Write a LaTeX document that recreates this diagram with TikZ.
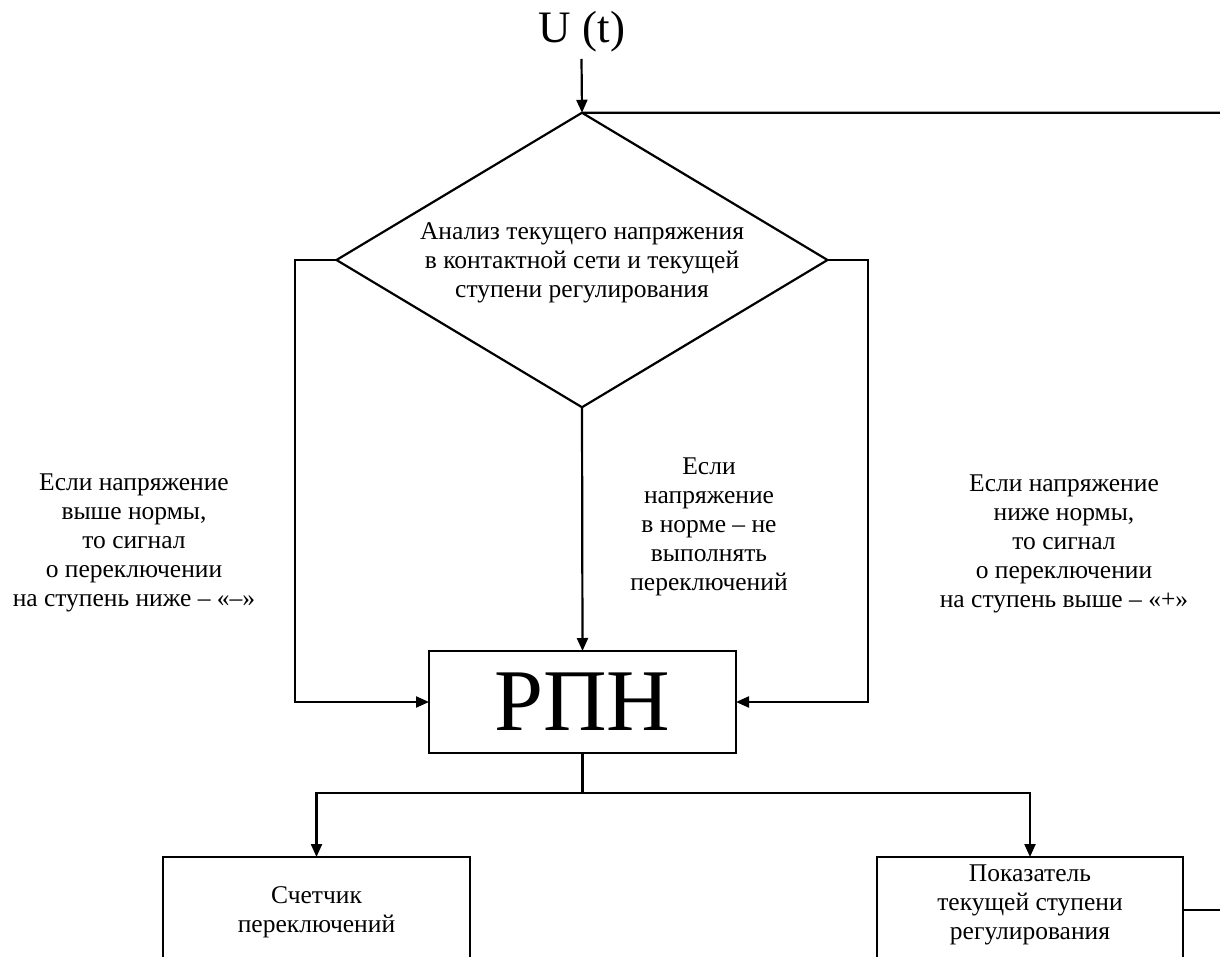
\documentclass[tikz,border=0pt]{standalone}
\usepackage{fontspec}
\setmainfont{Liberation Serif}
\newfontfamily\bigserif{Liberation Serif}
\usetikzlibrary{arrows.meta,shapes.geometric}
\begin{document}
\begin{tikzpicture}[x=1pt,y=-1pt,line width=2.2pt,
  arr/.style={-{Triangle[length=13pt,width=11pt]}},
  lbl/.style={align=center,inner sep=0pt,font=\fontsize{25.5}{29}\selectfont},
  blk/.style={draw,inner sep=0pt,outer sep=0pt}]
\useasboundingbox (0,0) rectangle (1220,957);
\clip (0,0) rectangle (1220,957);
\fill[white] (0,0) rectangle (1220,957);

\node[inner sep=0pt,anchor=base,font=\bigserif\fontsize{45}{50}\selectfont] (u) at (582,43) {U (t)};
\coordinate (ustart) at (581.5,59);
\coordinate (topright) at (1220,112.7);

\node[blk,diamond,minimum width=491pt,minimum height=294.5pt] (dia) at (582,260) {};
\node[lbl] (diat) at (582,263) {Анализ текущего напряжения\\в контактной сети и текущей\\ступени регулирования};

\node[blk,minimum width=307pt,minimum height=102pt,font=\bigserif\fontsize{88}{90}\selectfont] (rpn) at (582.5,702) {РПН};

\node[lbl] (lt) at (134,543) {Если напряжение\\выше нормы,\\то сигнал\\о переключении\\на ступень ниже – «–»};
\node[lbl] (ct) at (709,527) {Если\\напряжение\\в норме – не\\выполнять\\переключений};
\node[lbl] (rt) at (1064,543.5) {Если напряжение\\ниже нормы,\\то сигнал\\о переключении\\на ступень выше – «+»};

\node[blk,minimum width=307pt,minimum height=150pt] (cnt) at (316.5,932) {};
\node[lbl] (cntt) at (316.5,912) {Счетчик\\переключений};
\node[blk,minimum width=306pt,minimum height=150pt] (ind) at (1030,932) {};
\node[lbl] (indt) at (1030,905) {Показатель\\текущей ступени\\регулирования};

\coordinate (lx) at (295.3,0);
\coordinate (rx) at (868,0);
\coordinate (bus) at (0,793);
\coordinate (indout) at (1220,910);

\draw[arr] (ustart) -- (dia.north);
\draw (dia.north) -- (topright);
\draw[arr] (dia.west) -- (dia.west -| lx) |- (rpn.west);
\draw[arr] (dia.east) -- (dia.east -| rx) |- (rpn.east);
\draw[arr] (dia.south) -- (rpn.north);
\draw (rpn.south) -- (rpn.south |- bus);
\draw[arr] (rpn.south |- bus) -| (cnt.north);
\draw[arr] (rpn.south |- bus) -| (ind.north);
\draw (ind.east |- indout) -- (indout);
\end{tikzpicture}
\end{document}
